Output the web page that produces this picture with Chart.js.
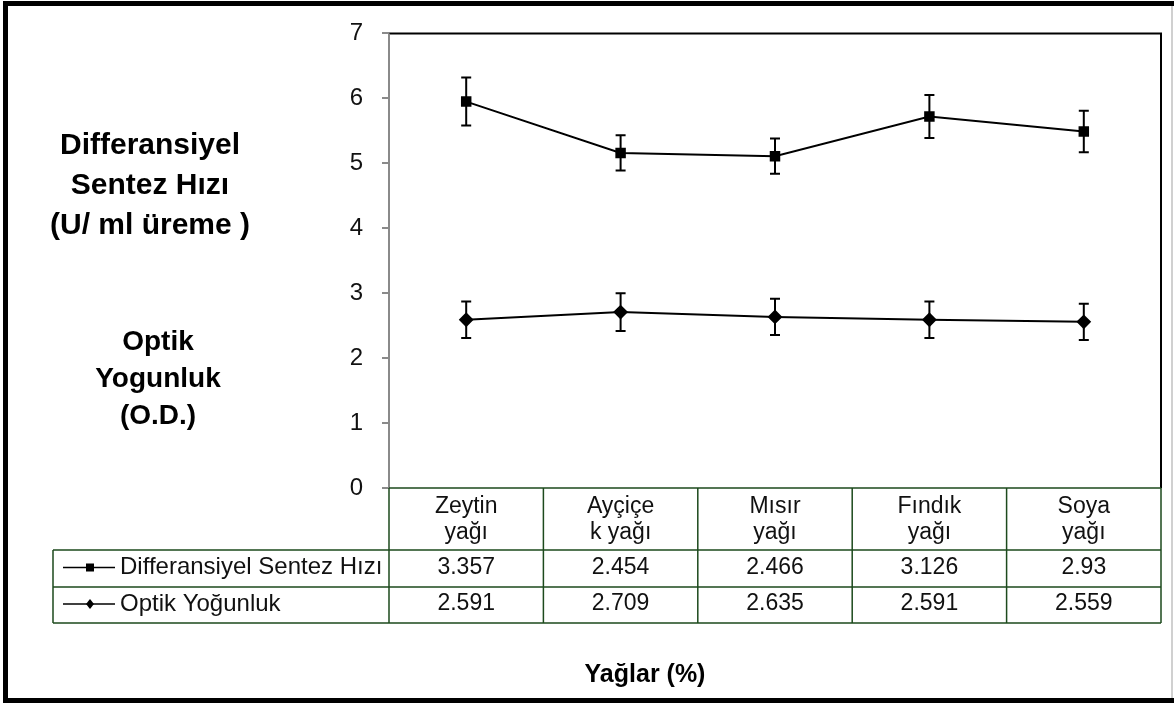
<!DOCTYPE html>
<html>
<head>
<meta charset="utf-8">
<script src="https://cdn.jsdelivr.net/npm/chart.js"></script>
<style>
  html, body { margin: 0; padding: 0; background: #fff; }
  #wrap { width: 1174px; height: 703px; }
</style>
</head>
<body>
<div id="wrap"><canvas id="chart" width="1174" height="703"></canvas></div>
<script>
// categories (two-line labels as shown in the data table)
const categories = [['Zeytin', 'yağı'], ['Ayçiçe', 'k yağı'], ['Mısır', 'yağı'], ['Fındık', 'yağı'], ['Soya', 'yağı']];
const seriesNames = ['Differansiyel Sentez Hızı', 'Optik Yoğunluk'];

// plotted values
const sentezValues = [5.95, 5.16, 5.11, 5.72, 5.49];
const sentezErrors = [0.37, 0.27, 0.27, 0.33, 0.32];
const optikValues = [2.591, 2.709, 2.635, 2.591, 2.559];
const optikErrors = [0.28, 0.29, 0.28, 0.28, 0.28];

// values printed in the data table
const sentezTable = ['3.357', '2.454', '2.466', '3.126', '2.93'];
const optikTable = ['2.591', '2.709', '2.635', '2.591', '2.559'];

const yTicks = [0, 1, 2, 3, 4, 5, 6, 7];

const FONT = 'Arial, "Liberation Sans", sans-serif';
const GREEN = '#1d4a1d';

// error bars + data table + frame, drawn from the scales
const extras = {
    id: 'extras',
    beforeDatasetsDraw(chart) {
        const ctx = chart.ctx;
        const y = chart.scales.y;
        const x = chart.scales.x;
        const sets = [[sentezValues, sentezErrors], [optikValues, optikErrors]];
        ctx.save();
        ctx.strokeStyle = '#000';
        ctx.lineWidth = 2;
        sets.forEach(([vals, errs]) => {
            vals.forEach((v, i) => {
                const px = x.getPixelForValue(i);
                const top = y.getPixelForValue(v + errs[i]);
                const bot = y.getPixelForValue(v - errs[i]);
                ctx.beginPath();
                ctx.moveTo(px, top); ctx.lineTo(px, bot);
                ctx.moveTo(px - 5, top); ctx.lineTo(px + 5, top);
                ctx.moveTo(px - 5, bot); ctx.lineTo(px + 5, bot);
                ctx.stroke();
            });
        });
        ctx.restore();
    },
    afterDraw(chart) {
        const ctx = chart.ctx;
        const a = chart.chartArea;
        const x = chart.scales.x;
        ctx.save();

        // plot frame
        ctx.lineWidth = 2;
        ctx.strokeStyle = '#000';
        ctx.beginPath();
        ctx.moveTo(a.left, a.top); ctx.lineTo(a.right, a.top); ctx.lineTo(a.right, a.bottom);
        ctx.stroke();
        ctx.strokeStyle = '#8a8a8a';
        ctx.lineWidth = 2;
        ctx.beginPath();
        ctx.moveTo(a.left, a.top); ctx.lineTo(a.left, a.bottom);
        ctx.stroke();

        // data table
        const half = (x.getPixelForValue(1) - x.getPixelForValue(0)) / 2;
        const rowTop = a.bottom, row1 = 550, row2 = 587, row3 = 623;
        const legLeft = 53;
        ctx.strokeStyle = GREEN;
        ctx.lineWidth = 1.5;
        ctx.beginPath();
        ctx.moveTo(a.left, rowTop); ctx.lineTo(a.right, rowTop);
        ctx.moveTo(legLeft, row1); ctx.lineTo(a.right, row1);
        ctx.moveTo(legLeft, row2); ctx.lineTo(a.right, row2);
        ctx.moveTo(legLeft, row3); ctx.lineTo(a.right, row3);
        ctx.moveTo(legLeft, row1); ctx.lineTo(legLeft, row3);
        categories.forEach((c, i) => {
            const l = x.getPixelForValue(i) - half;
            ctx.moveTo(l, rowTop); ctx.lineTo(l, row3);
        });
        ctx.moveTo(a.right, rowTop); ctx.lineTo(a.right, row3);
        ctx.stroke();

        ctx.fillStyle = '#111';
        ctx.textAlign = 'center';
        ctx.textBaseline = 'middle';
        ctx.font = '23px ' + FONT;
        categories.forEach((c, i) => {
            const px = x.getPixelForValue(i);
            ctx.fillText(c[0], px, rowTop + 19);
            ctx.fillText(c[1], px, rowTop + 45);
            ctx.fillText(sentezTable[i], px, (row1 + row2) / 2 - 1);
            ctx.fillText(optikTable[i], px, (row2 + row3) / 2 - 1);
        });

        // legend keys in the table
        const keyY = [(row1 + row2) / 2 - 1, (row2 + row3) / 2 - 1];
        ctx.font = '24px ' + FONT;
        keyY.forEach((ky, k) => {
            ctx.strokeStyle = '#000';
            ctx.lineWidth = 1.5;
            ctx.beginPath();
            ctx.moveTo(63, ky); ctx.lineTo(115, ky);
            ctx.stroke();
            ctx.fillStyle = '#000';
            if (k === 0) {
                ctx.fillRect(86, ky - 4, 8, 8);
            } else {
                ctx.beginPath();
                ctx.moveTo(90, ky - 5); ctx.lineTo(94, ky); ctx.lineTo(90, ky + 5); ctx.lineTo(86, ky);
                ctx.closePath();
                ctx.fill();
            }
            ctx.fillStyle = '#111';
            ctx.textAlign = 'left';
            ctx.fillText(seriesNames[k], 120, ky);
        });

        // left titles
        ctx.fillStyle = '#000';
        ctx.textAlign = 'center';
        ctx.font = 'bold 30px ' + FONT;
        ['Differansiyel', 'Sentez Hızı', '(U/ ml üreme )'].forEach((t, i) => ctx.fillText(t, 150, 146 + i * 40));
        ctx.font = 'bold 28px ' + FONT;
        ['Optik', 'Yogunluk', '(O.D.)'].forEach((t, i) => ctx.fillText(t, 158, 342 + i * 37));

        // x title
        ctx.font = 'bold 25px ' + FONT;
        ctx.fillText('Yağlar (%)', 645, 675);

        // outer frame
        ctx.fillStyle = '#000';
        ctx.fillRect(3, 1, 1171, 5);
        ctx.fillRect(3, 1, 5, 702);
        ctx.fillRect(3, 698, 1171, 5);
        ctx.fillStyle = '#d0d0d0';
        ctx.fillRect(1171, 6, 2, 692);

        ctx.restore();
    }
};

new Chart(document.getElementById('chart').getContext('2d'), {
    type: 'line',
    data: {
        labels: categories.map(c => c.join(' ')),
        datasets: [
            {
                label: seriesNames[0],
                data: sentezValues,
                borderColor: '#000',
                backgroundColor: '#000',
                borderWidth: 2,
                pointStyle: 'rect',
                pointRadius: 6,
                pointHoverRadius: 6,
                tension: 0
            },
            {
                label: seriesNames[1],
                data: optikValues,
                borderColor: '#000',
                backgroundColor: '#000',
                borderWidth: 2,
                pointStyle: 'rectRot',
                pointRadius: 6,
                pointHoverRadius: 6,
                tension: 0
            }
        ]
    },
    options: {
        responsive: false,
        animation: false,
        events: [],
        layout: { padding: { top: 27, right: 13, bottom: 215, left: 0 } },
        plugins: { legend: { display: false }, tooltip: { enabled: false } },
        scales: {
            x: {
                display: false,
                offset: true
            },
            y: {
                min: 0,
                max: 7,
                afterFit(scale) { scale.width = 389; },
                afterBuildTicks(scale) { scale.ticks = yTicks.map(v => ({ value: v })); },
                border: { display: false },
                grid: { drawOnChartArea: false, drawTicks: true, tickLength: 7, color: '#8a8a8a', lineWidth: 2 },
                ticks: { color: '#111', padding: 19, font: { size: 24, family: FONT } }
            }
        }
    },
    plugins: [extras]
});
</script>
</body>
</html>
